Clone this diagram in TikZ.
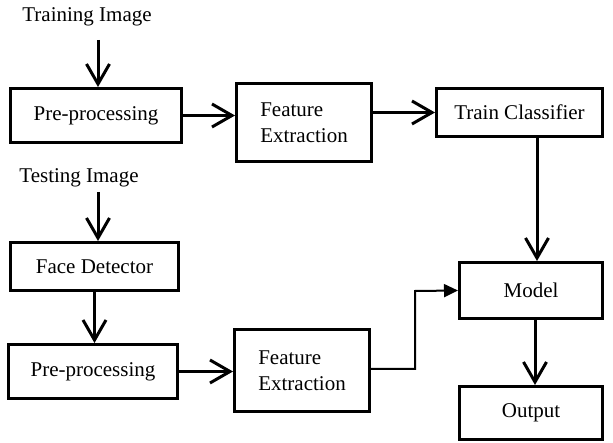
\documentclass[tikz,border=0pt]{standalone}
\usepackage{fontspec}
\setmainfont{Liberation Serif}
\usetikzlibrary{arrows.meta}
\begin{document}
\begin{tikzpicture}[x=1pt,y=-1pt,
  box/.style={draw,line width=3pt,fill=white,inner sep=0pt,align=center,
    font=\fontsize{21}{26}\selectfont},
  lbl/.style={inner sep=0pt,font=\fontsize{21}{26}\selectfont},
  arr/.style={line width=3pt,-{Straight Barb[length=20pt,width=23pt]}},
  thinarr/.style={line width=2pt,-{Triangle[length=14pt,width=13pt]}}]
\useasboundingbox (0,0) rectangle (613,443);
\node[lbl] (train) at (87,17) {Training Image};
\node[lbl] (test) at (79,178) {Testing Image};
\coordinate (tin) at (98,40);
\coordinate (sin) at (98,192);
\node[box,minimum width=171pt,minimum height=54pt] (pp1) at (96,115.5) {Pre-processing};
\node[box,minimum width=135pt,minimum height=78pt,align=left] (fe1) at (304,122.5) {Feature\\Extraction};
\node[box,minimum width=166pt,minimum height=48pt] (tc) at (519.5,112.5) {Train Classifier};
\node[box,minimum width=168pt,minimum height=48pt] (fd) at (94.5,266.5) {Face Detector};
\node[box,minimum width=169pt,minimum height=54pt] (pp2) at (93,371.5) {Pre-processing};
\node[box,minimum width=135pt,minimum height=82pt,align=left] (fe2) at (302,370.5) {Feature\\Extraction};
\node[box,minimum width=143pt,minimum height=56pt] (model) at (531,290.5) {Model};
\node[box,minimum width=143pt,minimum height=53pt] (out) at (531,413) {Output};
\draw[arr] (tin) -- (tin |- pp1.north);
\draw[arr] (pp1.east) -- (pp1.east -| fe1.west);
\draw[arr] (fe1.east |- tc.west) -- (tc.west);
\draw[arr] (sin) -- (sin |- fd.north);
\draw[arr] (fd.south) -- (fd.south |- pp2.north);
\draw[arr] (pp2.east) -- (pp2.east -| fe2.west);
\draw[arr] ([xshift=17.5pt]tc.south) -- ([xshift=17.5pt]tc.south |- model.north);
\draw[arr] ([xshift=4pt]model.south) -- ([xshift=4pt]model.south |- out.north);
\draw[thinarr] ([yshift=1.5pt]fe2.east) -| (415,291) -- (model.west);
\end{tikzpicture}
\end{document}
